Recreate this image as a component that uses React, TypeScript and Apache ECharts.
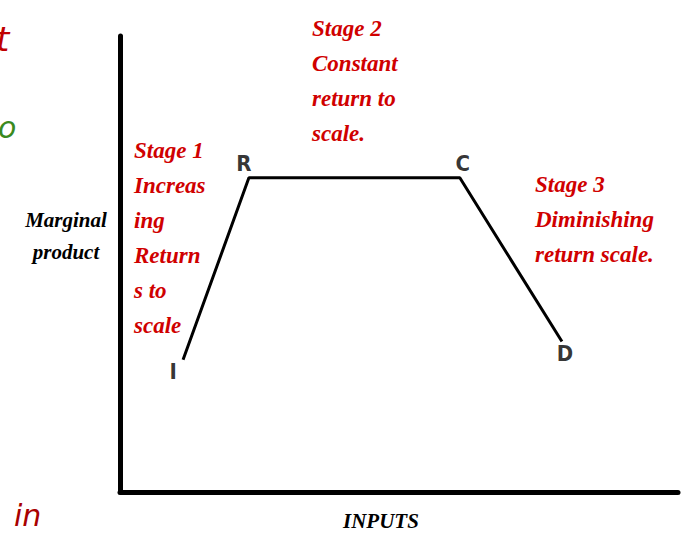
import React, { useEffect, useRef } from "react";
import * as echarts from "echarts";

const inputs = [11.3, 23.1, 60.9, 79.2];
const marginalProduct = [29, 68.9, 68.9, 33];
const pointLabels = ["I", "R", "C", "D"];
const stage1 = ["Stage 1", "Increas", "ing", "Return", "s to", "scale"];
const stage2 = ["Stage 2", "Constant", "return to", "scale."];
const stage3 = ["Stage 3", "Diminishing", "return scale."];
const yTitle = ["Marginal", "product"];
const xTitle = "INPUTS";

const RED = "#d00000";
const serif = "'Liberation Serif', 'DejaVu Serif', serif";
const labelFont = "'Liberation Sans Narrow', 'DejaVu Sans Condensed', 'Liberation Sans', sans-serif";

export default function App() {
  const ref = useRef<HTMLDivElement>(null);
  useEffect(() => {
    document.body.style.margin = "0";
    const chart = echarts.init(ref.current!, null, { renderer: "svg" });
    const labelOffsets: Record<string, any> = {
      I: { position: "bottom", offset: [-10, -4] },
      R: { position: "top", offset: [-5, 2] },
      C: { position: "top", offset: [3, 2] },
      D: { position: "bottom", offset: [3, -4] },
    };
    const redText = (lines: string[], x: number, y: number) => ({
      type: "text",
      left: x,
      top: y,
      style: {
        text: lines.join("\n"),
        fill: RED,
        font: `italic bold 23px ${serif}`,
        lineHeight: 35,
      },
    });
    chart.setOption({
      animation: false,
      backgroundColor: "#ffffff",
      grid: { left: 120, right: 3, top: 36, bottom: 45 },
      xAxis: {
        type: "value",
        min: 0,
        max: 100,
        axisLine: { show: true, lineStyle: { color: "#000", width: 5 } },
        axisTick: { show: false },
        axisLabel: { show: false },
        splitLine: { show: false },
      },
      yAxis: {
        type: "value",
        min: 0,
        max: 100,
        axisLine: { show: true, lineStyle: { color: "#000", width: 5 } },
        axisTick: { show: false },
        axisLabel: { show: false },
        splitLine: { show: false },
      },
      series: [
        {
          type: "line",
          data: inputs.map((x, i) => [x, marginalProduct[i]]),
          symbol: "none",
          lineStyle: { color: "#000", width: 3 },
        },
        {
          type: "scatter",
          symbolSize: 0,
          data: inputs.map((x, i) => ({
            value: [x, marginalProduct[i]],
            label: {
              show: true,
              formatter: pointLabels[i],
              color: "#000",
              fontFamily: labelFont,
              fontWeight: "bold",
              fontSize: 22,
              ...labelOffsets[pointLabels[i]],
            },
          })),
        },
      ],
      graphic: [
        redText(stage1, 134, 133),
        redText(stage2, 312, 11),
        redText(stage3, 535, 167),
        {
          type: "text",
          x: 66,
          y: 204,
          style: {
            text: yTitle.join("\n"),
            fill: "#000",
            font: `italic bold 21px ${serif}`,
            lineHeight: 32,
            align: "center",
          },
        },
        {
          type: "text",
          left: 343,
          top: 510,
          style: { text: xTitle, fill: "#000", font: `italic bold 21px ${serif}` },
        },
        {
          type: "text",
          left: -4,
          top: 22,
          style: { text: "t", fill: "#c00000", font: `italic 34px 'DejaVu Sans', sans-serif` },
        },
        {
          type: "text",
          left: -2,
          top: 112,
          style: { text: "o", fill: "#3a8a1e", font: `italic 30px 'DejaVu Sans', sans-serif` },
        },
        {
          type: "text",
          left: 14,
          top: 500,
          style: { text: "in", fill: "#a80000", font: `italic 30px 'DejaVu Sans', sans-serif` },
        },
      ],
    });
    return () => chart.dispose();
  }, []);
  return (
    <div
      ref={ref}
      style={{ position: "fixed", left: 0, top: 0, width: 681, height: 537 }}
    />
  );
}
